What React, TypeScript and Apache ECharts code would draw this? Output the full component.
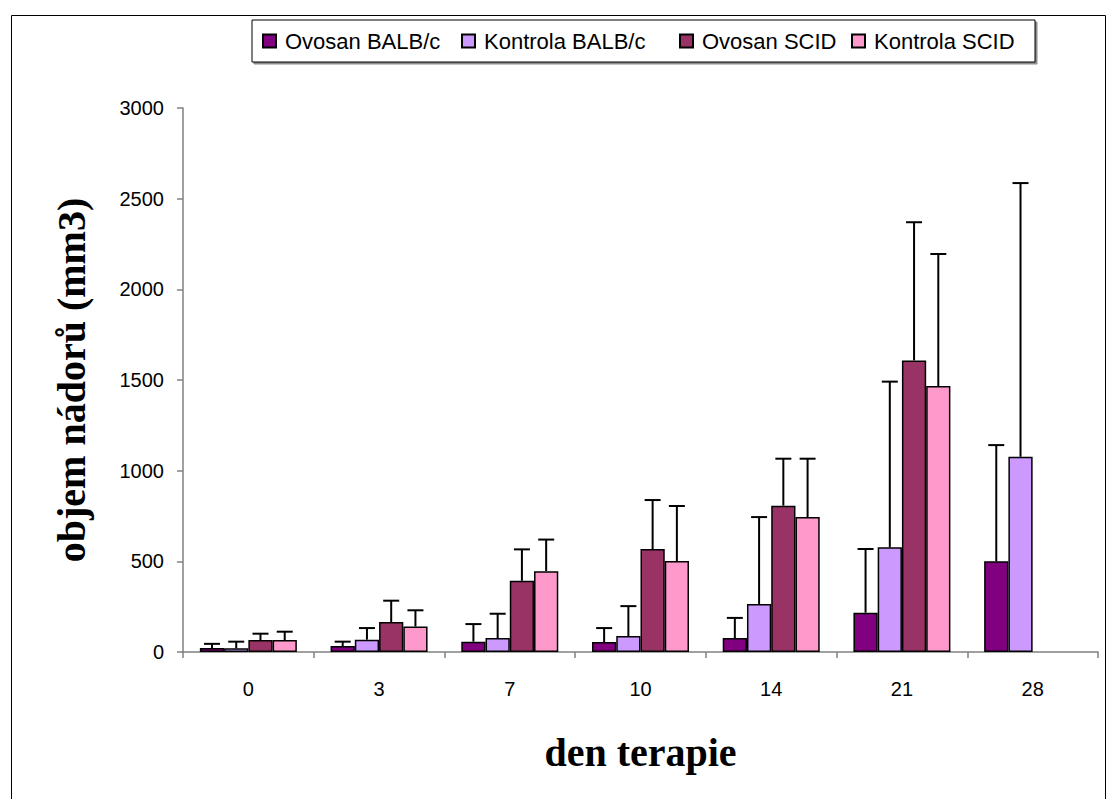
import React, { useEffect, useRef } from "react";
import * as echarts from "echarts";

const categories = ["0", "3", "7", "10", "14", "21", "28"];
const seriesNames = ["Ovosan BALB/c", "Kontrola BALB/c", "Ovosan SCID", "Kontrola SCID"];
const seriesColors = ["#800080", "#CC99FF", "#993366", "#FF99CC"];

const ovosanBalb = [22, 33, 57, 55, 77, 217, 500];
const ovosanBalbUpper = [45, 57, 154, 132, 188, 568, 1141];
const kontrolaBalb = [20, 68, 77, 88, 265, 577, 1077];
const kontrolaBalbUpper = [57, 132, 211, 253, 744, 1491, 2586];
const ovosanScid = [66, 165, 393, 568, 807, 1608, null];
const ovosanScidUpper = [101, 283, 566, 838, 1066, 2370, null];
const kontrolaScid = [66, 141, 446, 502, 744, 1467, null];
const kontrolaScidUpper = [112, 230, 620, 805, 1066, 2195, null];

const yMin = 0;
const yMax = 3000;
const yInterval = 500;

const values = [ovosanBalb, kontrolaBalb, ovosanScid, kontrolaScid];
const uppers = [ovosanBalbUpper, kontrolaBalbUpper, ovosanScidUpper, kontrolaScidUpper];

const CAT_GAP = 0.258;

export default function App() {
  const ref = useRef<HTMLDivElement>(null);
  useEffect(() => {
    document.body.style.margin = "0";
    if (!ref.current) return;
    const chart = echarts.init(ref.current, null, { renderer: "svg" });

    const barSeries = values.map((vals, i) => ({
      name: seriesNames[i],
      type: "bar",
      data: vals,
      barGap: "0%",
      barCategoryGap: CAT_GAP * 100 + "%",
      itemStyle: { color: seriesColors[i], borderColor: "#000", borderWidth: 1.5 },
      z: 2,
    }));

    const errSeries = uppers.map((ups, i) => ({
      name: seriesNames[i] + " err",
      type: "custom",
      z: 3,
      data: ups
        .map((u, k) => (u == null ? null : [k, u, values[i][k]]))
        .filter((d) => d != null),
      encode: { x: 0, y: 1 },
      renderItem: (params: any, api: any) => {
        const idx = api.value(0);
        const top = api.coord([idx, api.value(1)]);
        const base = api.coord([idx, api.value(2)]);
        const catW = api.size([1, 0])[0];
        const barW = (catW * (1 - CAT_GAP)) / 4;
        const x = top[0] + (i - 1.5) * barW;
        const capHalf = 8;
        const style = { stroke: "#000", lineWidth: 2 };
        return {
          type: "group",
          children: [
            { type: "line", shape: { x1: x, y1: base[1], x2: x, y2: top[1] }, style },
            { type: "line", shape: { x1: x - capHalf, y1: top[1], x2: x + capHalf, y2: top[1] }, style },
          ],
        };
      },
    }));

    const richWidths = [166, 185, 139, 151];
    const rich: any = {};
    richWidths.forEach((w, k) => {
      rich["t" + k] = {
        width: w,
        padding: [0, 0, 0, 4],
        fontSize: 22,
        fontFamily: "Liberation Sans, Arial",
        color: "#000",
        lineHeight: 22,
      };
    });

    chart.setOption({
      animation: false,
      backgroundColor: "#fff",
      graphic: [
        {
          type: "rect",
          left: 9,
          top: 13,
          shape: { width: 1094, height: 800 },
          style: { fill: "none", stroke: "#000", lineWidth: 1 },
          z: -1,
        },
      ],
      legend: {
        data: seriesNames,
        left: 252,
        top: 20,
        padding: [10, 10],
        itemGap: 10,
        itemWidth: 13,
        itemHeight: 13,
        icon: "rect",
        borderColor: "#000",
        borderWidth: 1,
        backgroundColor: "#fff",
        shadowColor: "rgba(0,0,0,0.45)",
        shadowOffsetX: 2,
        shadowOffsetY: 2,
        shadowBlur: 0,
        formatter: (name: string) => `{t${seriesNames.indexOf(name)}|${name}}`,
        textStyle: { rich, fontSize: 22, fontFamily: "Liberation Sans, Arial", color: "#000" },
      },
      grid: { left: 183, right: 11, top: 108, bottom: 147, containLabel: false },
      xAxis: {
        type: "category",
        data: categories,
        name: "den terapie",
        nameLocation: "middle",
        nameGap: 80,
        nameTextStyle: {
          fontFamily: "Liberation Serif, Times New Roman",
          fontWeight: "bold",
          fontSize: 40,
          color: "#000",
        },
        axisLine: { lineStyle: { color: "#808080", width: 1.5 } },
        axisTick: { show: true, length: 6, lineStyle: { color: "#808080", width: 1.5 } },
        axisLabel: {
          margin: 27,
          fontSize: 20,
          fontFamily: "Liberation Sans, Arial",
          color: "#000",
        },
      },
      yAxis: {
        type: "value",
        min: yMin,
        max: yMax,
        interval: yInterval,
        name: "objem nádorů (mm3)",
        nameLocation: "middle",
        nameGap: 92,
        nameTextStyle: {
          fontFamily: "Liberation Serif, Times New Roman",
          fontWeight: "bold",
          fontSize: 40,
          color: "#000",
        },
        splitLine: { show: false },
        axisLine: { show: true, lineStyle: { color: "#808080", width: 1.5 } },
        axisTick: { show: true, length: 6, lineStyle: { color: "#808080", width: 1.5 } },
        axisLabel: {
          margin: 19,
          fontSize: 20,
          fontFamily: "Liberation Sans, Arial",
          color: "#000",
          formatter: (v: number) => String(v),
        },
      },
      series: [...barSeries, ...errSeries],
    });

    return () => chart.dispose();
  }, []);

  return <div ref={ref} style={{ width: 1109, height: 799 }} />;
}
